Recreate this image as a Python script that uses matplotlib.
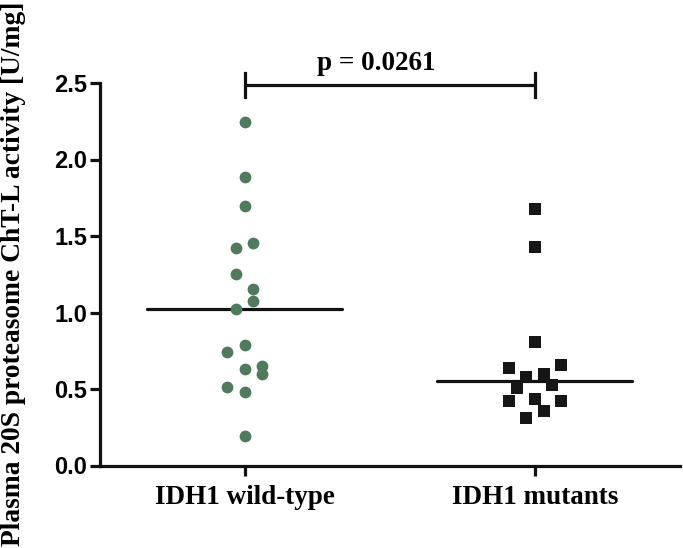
import numpy as np
import matplotlib
matplotlib.use("Agg")
import matplotlib.pyplot as plt

categories = ["IDH1 wild-type", "IDH1 mutants"]
wt_values = [2.247, 1.884, 1.694, 1.454, 1.420, 1.254, 1.156, 1.077, 1.025,
             0.790, 0.742, 0.633, 0.652, 0.596, 0.513, 0.482, 0.193]
mut_values = [1.675, 1.430, 0.805, 0.637, 0.657, 0.576, 0.596, 0.505, 0.524,
              0.422, 0.433, 0.422, 0.358, 0.310]
# horizontal scatter offsets (as in the dot plot)
wt_jitter = [0, 0, 0, 0.029, -0.030, -0.030, 0.029, 0.029, -0.030,
             0, -0.061, 0, 0.059, 0.059, -0.061, 0, 0]
mut_jitter = [0, 0, 0, -0.090, 0.089, -0.030, 0.030, -0.060, 0.059,
              -0.090, 0, 0.089, 0.030, -0.030]
p_text = "p = 0.0261"
ylabel = "Plasma 20S proteasome ChT-L activity [U/mg]"
yticks = [0.0, 0.5, 1.0, 1.5, 2.0, 2.5]

serif = "Liberation Serif"
sans = "Liberation Sans"
lw = 2.3

fig = plt.figure(figsize=(6.83, 5.48), dpi=100)
ax = fig.add_axes([99.5 / 683, 1 - 465.5 / 548, (680 - 99.5) / 683, (465.5 - 83) / 548])

green = "#4f7b5c"
ax.plot(1 + np.array(wt_jitter), wt_values, "o", color=green, markersize=8.5,
        markeredgewidth=0, clip_on=False, zorder=3)
ax.plot(2 + np.array(mut_jitter), mut_values, "s", color="#161616", markersize=8.7,
        markeredgewidth=0, clip_on=False, zorder=3)

for xpos, vals in [(1, wt_values), (2, mut_values)]:
    med = np.median(vals)
    ax.plot([xpos - 0.336, xpos + 0.336], [med, med], color="#111111", lw=lw,
            solid_capstyle="round", zorder=2)

ax.set_xlim(0.5, 2.5)
ax.set_ylim(0, 2.5)
ax.set_yticks(yticks)
ax.set_yticklabels([f"{v:.1f}" for v in yticks], fontfamily=sans, fontweight="bold", fontsize=17)
ax.set_xticks([1, 2])
ax.set_xticklabels(categories, fontfamily=serif, fontweight="bold", fontsize=19.5)
ax.tick_params(axis="both", length=7, width=lw, color="#111111", direction="out")
ax.tick_params(axis="y", pad=2)
ax.tick_params(axis="x", pad=7)
for s in ["top", "right"]:
    ax.spines[s].set_visible(False)
for s in ["left", "bottom"]:
    ax.spines[s].set_linewidth(lw)
    ax.spines[s].set_color("#111111")

# significance bracket
yb = 2.487
tick_h = 0.078
ax.plot([1, 2], [yb, yb], color="#111111", lw=lw, clip_on=False, solid_capstyle="butt")
for xb in [1, 2]:
    ax.plot([xb, xb], [yb - tick_h, yb + tick_h], color="#111111", lw=lw, clip_on=False)
ax.text(1.453, 2.585, p_text, ha="center", va="baseline", fontfamily=serif,
        fontweight="bold", fontsize=19.5, clip_on=False)

fig.text(14 / 683, 1 - 546 / 548, ylabel, rotation=90, ha="center", va="bottom",
         fontfamily=serif, fontweight="bold", fontsize=19.8)

fig.savefig("out.png", dpi=100)
